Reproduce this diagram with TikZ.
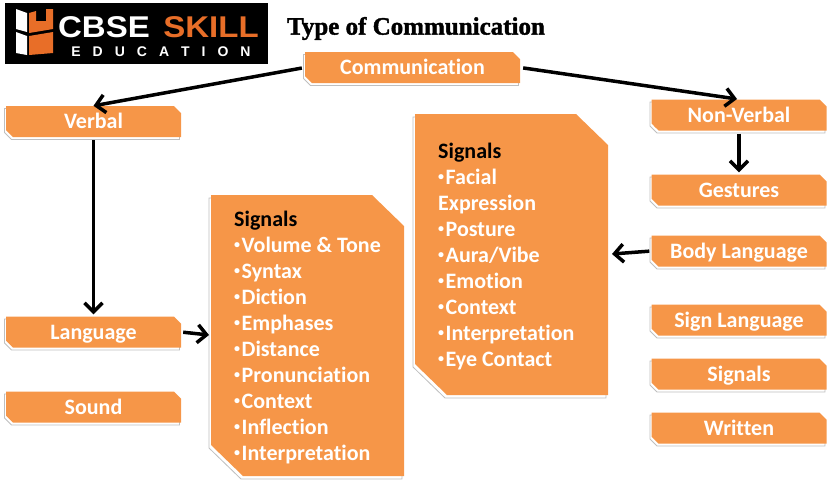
\documentclass[tikz,border=0pt]{standalone}
\usepackage{fontspec}
\setmainfont{Carlito}[Ligatures=NoCommon]
\newfontfamily\titlefont{Liberation Serif}[FakeBold=1.6]
\newfontfamily\logofont{Liberation Sans}
\usetikzlibrary{arrows.meta,positioning,shadows,shapes.misc}
\definecolor{boxorange}{RGB}{246,150,72}
\definecolor{logoorange}{RGB}{232,110,40}
\newcommand{\panelpath}[2]{(#1,#2) -- (#1+161,#2) -- (#1+193,#2+31) -- (#1+193,#2+281) -- (#1+32,#2+281) -- (#1,#2+250) -- cycle}
\newcommand{\bul}{{\fontsize{12}{12}\selectfont\raisebox{3.5pt}{\textbullet}}\kern1.5pt}
\tikzset{
    bareBox/.style={chamfered rectangle, chamfered rectangle corners={north east,south west},
        chamfered rectangle xsep=3.5pt, chamfered rectangle ysep=3.5pt,
        fill=boxorange, text=white, font=\bfseries\fontsize{22}{22}\selectfont, inner sep=0pt,
        text height=19pt, text depth=5pt,
        minimum width=175pt, minimum height=30pt,
        copy shadow={shadow xshift=-1.5pt, shadow yshift=-2.5pt, fill=white, draw=black!25, line width=.8pt}
    },
    panelShade/.style={fill=white, draw=black!25, line width=.8pt, xshift=-2pt, yshift=-3pt},
    panelFill/.style={fill=boxorange},
    bareList/.style={align=left, anchor=north west, inner sep=0pt, text=white,
        font=\bfseries\fontsize{22}{26}\selectfont
    },
    bareG/.style={-{Straight Barb[length=9pt,width=18pt,line width=3.5pt]}, line width=3.5pt, black}
}
\begin{document}
\begin{tikzpicture}[x=1pt,y=-1pt]
    \useasboundingbox (0,0) rectangle (839,483);
    % logo
    \fill[black] (5,3) rectangle (268,64);
    \fill[white] (16,9) -- (27,13) -- (27,32) -- (16,29) -- cycle;
    \fill[white] (16,32) -- (27,36) -- (27,55) -- (16,53) -- cycle;
    \fill[logoorange] (29,13) -- (36,11) -- (36,21) -- (46,21) -- (46,9) -- (53,9) -- (53,29) -- (29,33) -- cycle;
    \fill[logoorange] (29,36) -- (53,32) -- (53,53) -- (29,55) -- cycle;
    \node (cbse) at (104,27.5) [inner sep=0pt,text=white,font=\logofont\bfseries\fontsize{30}{30}\selectfont] {\scalebox{1.1}[1]{CBSE}};
    \node (skill) at (211,27.5) [inner sep=0pt,text=logoorange,font=\logofont\bfseries\fontsize{30}{30}\selectfont] {\scalebox{1.1}[1]{SKILL}};
    \node (education) at (161,52) [inner sep=0pt,text=white,font=\logofont\bfseries\fontsize{14}{14}\selectfont] {E\hspace{12pt}D\hspace{12pt}U\hspace{12pt}C\hspace{12pt}A\hspace{12pt}T\hspace{12pt}I\hspace{12pt}O\hspace{12pt}N};
    \node (title) at (416,28.5) [inner sep=0pt,font=\titlefont\bfseries\fontsize{25}{25}\selectfont] {Type of Communication};

    \node (communication) at (412.5,67.5) [bareBox,minimum width=215pt] {Communication};
    \node (verbal) at (93.5,121.5) [bareBox] {Verbal};
    \node (language) at (93.5,332) [bareBox] {Language};
    \node (sound) at (93.5,407) [bareBox] {Sound};
    \node (nonverbal) at (739,115) [bareBox] {Non-Verbal};
    \node (gestures) at (739,190) [bareBox] {Gestures};
    \node (bodylanguage) at (739,251) [bareBox] {Body Language};
    \node (signlanguage) at (739,320) [bareBox] {Sign Language};
    \node (signals) at (739,374) [bareBox] {Signals};
    \node (written) at (739,428) [bareBox] {Written};

    \draw[panelShade] \panelpath{211}{195};
    \fill[panelFill] \panelpath{211}{195};
    \draw[panelShade] \panelpath{415}{114};
    \fill[panelFill] \panelpath{415}{114};
    \node (leftlist) at (234,210.5) [bareList] {\textcolor{black}{Signals}\\\bul Volume \& Tone\\\bul Syntax\\\bul Diction\\\bul Emphases\\\bul Distance\\\bul Pronunciation\\\bul Context\\\bul Inflection\\\bul Interpretation};
    \node (rightlist) at (438,142.5) [bareList] {\textcolor{black}{Signals}\\\bul Facial\\Expression\\\bul Posture\\\bul Aura/Vibe\\\bul Emotion\\\bul Context\\\bul Interpretation\\\bul Eye Contact};

    \coordinate (leftin) at (209,335);
    \coordinate (rightin) at (612,254);
    \draw[bareG,shorten <=3pt] (communication.west) -- (verbal.north);
    \draw[bareG,shorten <=3pt,shorten >=2pt] (communication.east) -- (nonverbal.north);
    \draw[bareG,shorten <=3pt,shorten >=2pt] (verbal.south) -- (language.north);
    \draw[bareG,shorten <=3pt,shorten >=2pt] (nonverbal.south) -- (gestures.north);
    \draw[bareG,shorten <=2pt] (bodylanguage.west) -- (rightin);
    \draw[bareG,shorten <=2pt] (language.east) -- (leftin);
\end{tikzpicture}
\end{document}
